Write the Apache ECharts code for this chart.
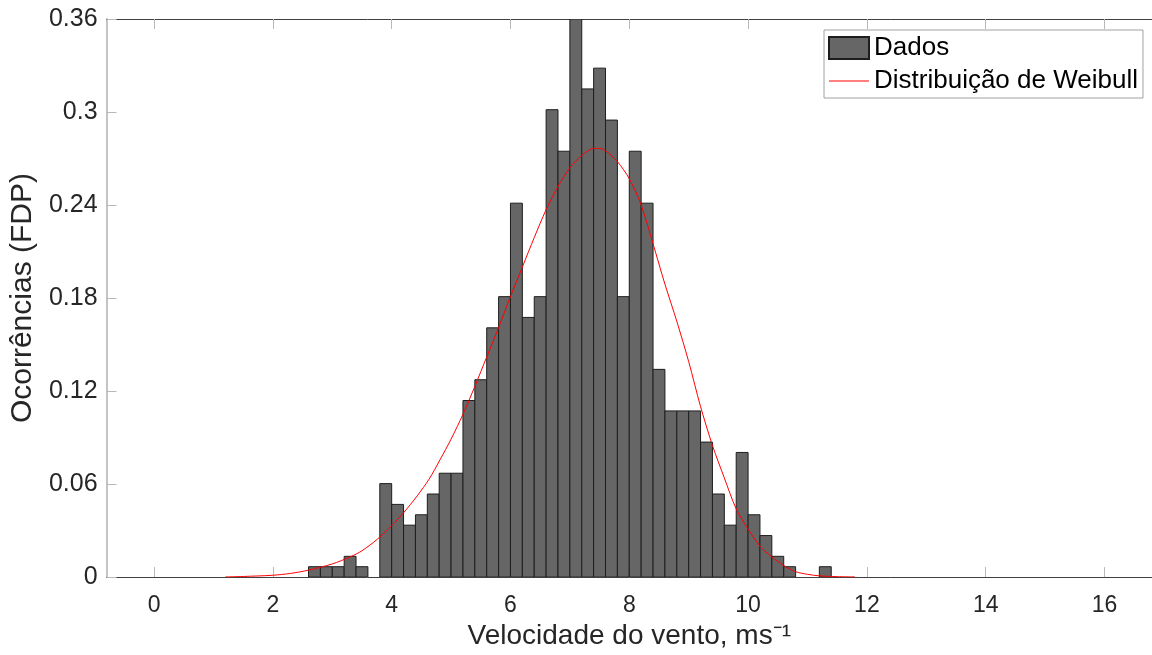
<!DOCTYPE html>
<html><head><meta charset="utf-8">
<script src="https://cdn.jsdelivr.net/npm/echarts@6/dist/echarts.min.js"></script>
<style>html,body{margin:0;padding:0;background:#fff}#c{width:1152px;height:655px}</style>
</head><body><div id="c"></div>
<script>
// Histogram bins (left edges) and density values
const binLeft = [2.6,2.8,3.0,3.2,3.4,3.6,3.8,4.0,4.2,4.4,4.6,4.8,5.0,5.2,5.4,5.6,5.8,6.0,6.2,6.4,6.6,6.8,7.0,7.2,7.4,7.6,7.8,8.0,8.2,8.4,8.6,8.8,9.0,9.2,9.4,9.6,9.8,10.0,10.2,10.4,10.6,10.8,11.0,11.2];
const density = [0.0067,0.0067,0.0067,0.0134,0.0067,0,0.0603,0.0469,0.0335,0.0402,0.0536,0.067,0.067,0.1139,0.1273,0.1608,0.1809,0.2412,0.1675,0.1809,0.3015,0.2747,0.3618,0.3149,0.3283,0.2948,0.1809,0.2747,0.2412,0.134,0.1072,0.1072,0.1072,0.0871,0.0536,0.0335,0.0804,0.0402,0.0268,0.0134,0.0067,0,0,0.0067];
const binWidth = 0.2;
// Weibull curve points
const curveX = [1.2,1.5,2.0,2.3,2.6,3.0,3.3,3.5,3.76,4.0,4.2,4.43,4.63,4.82,5.0,5.2,5.4,5.6,5.8,6.0,6.2,6.4,6.6,6.8,7.0,7.2,7.4,7.5,7.6,7.8,8.0,8.2,8.4,8.6,8.8,9.0,9.2,9.4,9.6,9.8,10.0,10.2,10.4,10.6,10.8,11.0,11.2,11.5,11.8];
const curveY = [0.0001,0.0004,0.0012,0.0024,0.0045,0.0085,0.013,0.017,0.0245,0.0332,0.0415,0.0524,0.0632,0.0761,0.089,0.105,0.123,0.142,0.161,0.181,0.200,0.219,0.237,0.252,0.264,0.272,0.2765,0.2765,0.275,0.268,0.257,0.240,0.215,0.189,0.165,0.139,0.110,0.085,0.064,0.044,0.031,0.020,0.013,0.0075,0.0035,0.0018,0.0008,0.0003,0.0001];
const xTicks = [0,2,4,6,8,10,12,14,16];
const yTickLabels = ['0','0.06','0.12','0.18','0.24','0.3','0.36'];
const seriesNames = ['Dados','Distribuição de Weibull'];

const FONT = "'Liberation Sans', Arial, Helvetica, sans-serif";
const TXT = '#262626';
const chart = echarts.init(document.getElementById('c'), null, {renderer:'canvas'});

const barData = binLeft.map((l,i)=>[l, l+binWidth, density[i]]);
const lineData = curveX.map((x,i)=>[x, curveY[i]]);
// thin horizontal line icon (tiny corner dots fix the bounding box)
const LINE_ICON = 'path://M0,10.5h40v1h-40z M0,0h0.01v0.01h-0.01z M39.99,21.99h0.01v0.01h-0.01z';

chart.setOption({
  backgroundColor:'#fff',
  animation:false,
  grid:{left:106, top:19, width:1050, height:559, containLabel:false},
  legend:{
    orient:'vertical', left:824, top:30,
    data:[{name:seriesNames[0], icon:'rect'}, {name:seriesNames[1], icon:LINE_ICON, itemStyle:{color:'#ff0000', borderWidth:0}}],
    itemWidth:40, itemHeight:22, itemGap:7, itemTextGap:4,
    padding:[5,5,4,4],
    backgroundColor:'#fff', borderColor:'#a0a0a0', borderWidth:1, borderRadius:0,
    textStyle:{fontFamily:FONT, fontSize:26, color:'#000', lineHeight:26}
  },
  xAxis:[{
    type:'value', min:-0.8, max:16.8, position:'bottom',
    name:'Velocidade do vento, ms⁻¹', nameLocation:'middle', nameGap:44,
    nameTextStyle:{fontFamily:FONT, fontSize:28, color:TXT},
    axisLine:{show:true, onZero:false, lineStyle:{color:'#404040', width:1}},
    axisTick:{show:true, inside:true, length:10, customValues:xTicks, lineStyle:{color:'#b8b8b8'}},
    axisLabel:{show:true, customValues:xTicks, fontFamily:FONT, fontSize:23, color:TXT, margin:17},
    splitLine:{show:false}
  },{
    type:'value', min:-0.8, max:16.8, position:'top',
    axisLine:{show:true, onZero:false, lineStyle:{color:'#404040', width:1}},
    axisTick:{show:true, inside:true, length:10, customValues:xTicks, lineStyle:{color:'#b8b8b8'}},
    axisLabel:{show:false},
    splitLine:{show:false}
  }],
  yAxis:{
    type:'value', min:0, max:0.36, interval:0.06,
    name:'Ocorrências (FDP)', nameLocation:'middle', nameGap:57, nameRotate:90,
    nameTextStyle:{fontFamily:FONT, fontSize:30, color:TXT},
    axisLine:{show:true, onZero:false, lineStyle:{color:'#c4c4c4', width:2}},
    axisTick:{show:true, inside:true, length:10, lineStyle:{color:'#b8b8b8'}},
    axisLabel:{fontFamily:FONT, fontSize:25, color:TXT, margin:9,
      formatter:(v)=>yTickLabels[Math.round(v/0.06)]},
    splitLine:{show:false}
  },
  series:[{
    name:seriesNames[0], type:'custom', xAxisIndex:0,
    itemStyle:{color:'#666666', borderColor:'#1e1e1e', borderWidth:1},
    encode:{x:[0,1], y:2},
    clip:true,
    renderItem:(params, api)=>{
      const v = api.value(2);
      if (!v) return null;
      const p0 = api.coord([api.value(0), 0]);
      const p1 = api.coord([api.value(1), v]);
      const cs = params.coordSys;
      const top = Math.max(p1[1], cs.y);
      return {type:'rect', shape:{x:p0[0], y:top, width:p1[0]-p0[0], height:p0[1]-top},
        style:{fill:'#666666', stroke:'#1e1e1e', lineWidth:1}};
    },
    data:barData, z:2
  },{
    name:seriesNames[1], type:'line', xAxisIndex:0,
    data:lineData, smooth:0.3, showSymbol:false, symbol:'none',
    lineStyle:{color:'#ff0000', width:1}, itemStyle:{color:'#ff0000'}, z:5
  }]
});
</script></body></html>
